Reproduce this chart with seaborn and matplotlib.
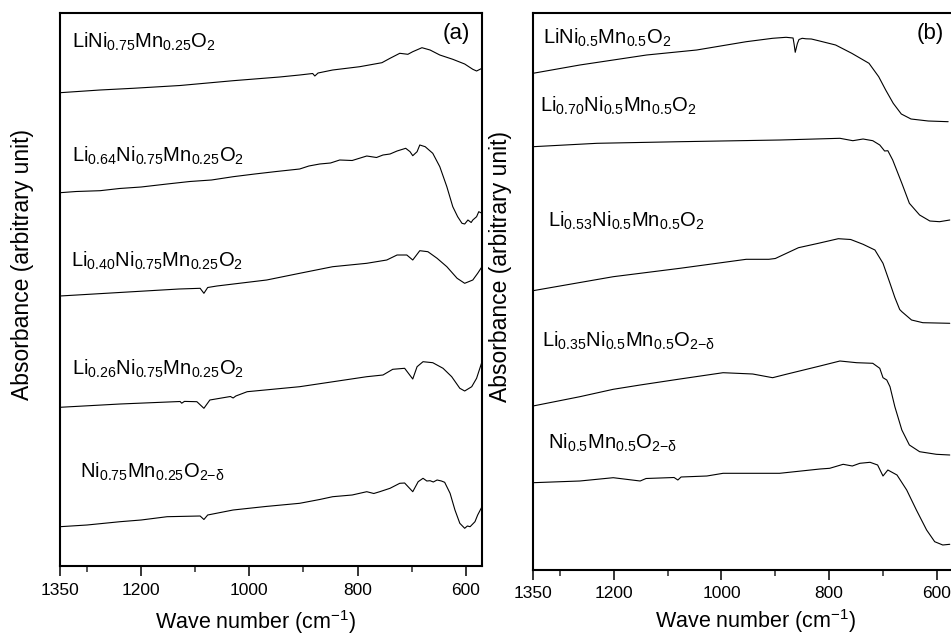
import numpy as np
import pandas as pd
import seaborn as sns
import matplotlib
matplotlib.use("Agg")
import matplotlib.pyplot as plt
from matplotlib.ticker import FixedLocator

# ---------------- panel (a): LiNi0.75Mn0.25O2 family ----------------
a1_wn = [1350, 1276, 1215, 1128, 1030, 944, 907, 883, 879, 873, 846, 796, 755, 740,
         722, 707, 698, 681, 666, 648, 624, 602, 587, 580, 570]
a1_ab = [473.3, 476.0, 477.7, 480.5, 485.3, 489.0, 491.0, 492.5, 490.0, 493.0, 496.0,
         499.3, 503.3, 507.7, 512.7, 511.7, 514.3, 518.3, 516.0, 511.0, 506.7, 502.0,
         496.7, 495.0, 497.7]

a2_wn = [1350, 1320, 1276, 1240, 1200, 1152, 1110, 1070, 1030, 990, 950, 907, 890,
         870, 850, 833, 810, 783, 765, 753, 740, 727, 711, 703, 698, 690, 685, 675,
         661, 648, 635, 624, 615, 607, 602, 596, 590, 587, 580, 576, 570]
a2_ab = [373.3, 374.5, 375.3, 377.5, 379.0, 382.0, 384.5, 386.0, 389.3, 392.0, 394.5,
         397.0, 400.0, 402.0, 403.0, 406.0, 405.5, 410.0, 408.5, 411.0, 412.0, 415.0,
         417.7, 414.3, 410.3, 414.3, 421.0, 419.3, 412.7, 399.3, 379.3, 359.3, 349.3,
         342.7, 342.0, 346.0, 343.5, 346.0, 349.3, 354.3, 352.7]

a3_wn = [1350, 1215, 1130, 1091, 1084, 1077, 1060, 968, 907, 846, 783, 746, 727, 709,
         698, 685, 670, 653, 635, 616, 602, 587, 578, 570]
a3_ab = [270.0, 274.3, 277.0, 277.7, 272.7, 278.5, 280.0, 286.0, 292.7, 299.3, 302.7,
         306.0, 311.0, 311.0, 306.0, 315.3, 314.3, 307.7, 299.3, 287.7, 282.7, 286.0,
         292.7, 299.3]

a4_wn = [1350, 1239, 1128, 1125, 1120, 1097, 1084, 1073, 1035, 1030, 1025, 1004, 907,
         783, 753, 735, 713, 698, 690, 679, 661, 642, 626, 611, 602, 589, 580, 570]
a4_ab = [158.7, 162.0, 164.5, 162.8, 164.6, 164.3, 157.7, 166.0, 169.5, 168.0, 170.0,
         174.3, 179.3, 189.3, 191.0, 196.7, 197.7, 187.0, 199.3, 204.3, 203.3, 197.7,
         189.3, 177.7, 175.0, 179.3, 187.7, 204.3]

a5_wn = [1350, 1300, 1239, 1200, 1152, 1091, 1084, 1077, 1030, 970, 907, 870, 846,
         810, 783, 770, 759, 740, 722, 713, 698, 688, 679, 672, 666, 660, 653, 645,
         639, 629, 620, 611, 602, 597, 592, 583, 578, 570]
a5_ab = [39.3, 41.0, 44.3, 46.0, 49.3, 50.0, 46.5, 51.0, 56.0, 59.5, 62.7, 66.5, 69.3,
         71.0, 74.3, 72.5, 74.3, 77.7, 82.7, 83.0, 74.3, 84.3, 87.7, 85.0, 85.3, 84.0,
         86.0, 85.0, 83.7, 72.7, 56.0, 42.7, 37.7, 40.0, 39.3, 44.3, 51.0, 59.3]

# ---------------- panel (b): LiNi0.5Mn0.5O2 family ----------------
b1_wn = [1350, 1263, 1139, 1046, 954, 905, 880, 867, 865, 863, 859, 856, 850, 843,
         833, 820, 788, 758, 726, 708, 695, 681, 666, 648, 616, 579]
b1_ab = [496.2, 504.5, 514.5, 519.5, 527.8, 531.2, 532.2, 531.5, 525.0, 517.2, 526.0,
         530.0, 531.2, 530.7, 530.5, 528.8, 524.5, 516.2, 506.2, 492.8, 479.5, 466.2,
         455.5, 450.5, 448.5, 447.8]

b2_wn = [1350, 1231, 1077, 891, 780, 756, 737, 719, 706, 697, 691, 682, 665, 651,
         632, 613, 595, 576]
b2_ab = [422.8, 426.2, 427.8, 429.5, 431.2, 428.8, 430.5, 428.8, 424.5, 418.5, 418.8,
         409.5, 386.2, 366.2, 354.5, 348.5, 347.8, 349.5]

b3_wn = [1350, 1201, 1077, 954, 912, 900, 857, 820, 783, 760, 737, 715, 700, 687,
         678, 669, 665, 647, 626, 576]
b3_ab = [278.8, 292.8, 301.2, 310.2, 310.2, 311.0, 321.8, 326.2, 330.8, 330.0, 325.2,
         319.5, 306.2, 286.2, 272.0, 260.0, 257.8, 249.5, 246.8, 246.2]

b4_wn = [1350, 1263, 1201, 1151, 1077, 997, 942, 905, 880, 817, 780, 749, 719, 706,
         700, 693, 687, 678, 665, 651, 632, 601, 576]
b4_ab = [163.5, 172.8, 180.2, 184.5, 190.5, 196.8, 195.5, 191.8, 195.2, 203.5, 208.5,
         206.8, 206.2, 201.2, 191.8, 189.5, 182.8, 162.8, 139.5, 124.5, 117.8, 115.2,
         114.5]

b5_wn = [1350, 1263, 1201, 1151, 1140, 1088, 1081, 1075, 1027, 997, 892, 817, 799,
         774, 757, 743, 724, 710, 700, 691, 674, 656, 638, 619, 604, 589, 576]
b5_ab = [86.8, 88.5, 91.8, 88.5, 91.0, 92.0, 89.5, 92.5, 93.5, 96.2, 96.2, 100.5,
         101.2, 105.2, 103.5, 106.2, 107.2, 104.5, 93.5, 99.5, 94.5, 79.5, 59.5, 39.5,
         27.8, 24.5, 25.2]

labels_a = [r"$\mathrm{LiNi_{0.75}Mn_{0.25}O_2}$",
            r"$\mathrm{Li_{0.64}Ni_{0.75}Mn_{0.25}O_2}$",
            r"$\mathrm{Li_{0.40}Ni_{0.75}Mn_{0.25}O_2}$",
            r"$\mathrm{Li_{0.26}Ni_{0.75}Mn_{0.25}O_2}$",
            r"$\mathrm{Ni_{0.75}Mn_{0.25}O_{2{-}\delta}}$"]
labels_b = [r"$\mathrm{LiNi_{0.5}Mn_{0.5}O_2}$",
            r"$\mathrm{Li_{0.70}Ni_{0.5}Mn_{0.5}O_2}$",
            r"$\mathrm{Li_{0.53}Ni_{0.5}Mn_{0.5}O_2}$",
            r"$\mathrm{Li_{0.35}Ni_{0.5}Mn_{0.5}O_{2{-}\delta}}$",
            r"$\mathrm{Ni_{0.5}Mn_{0.5}O_{2{-}\delta}}$"]

major_ticks = [1350, 1200, 1000, 800, 600]
minor_ticks = [1300, 1100, 900, 700]

sns.set_theme(style="ticks")
plt.rcParams["font.family"] = ["Liberation Sans", "DejaVu Sans"]
plt.rcParams["mathtext.fontset"] = "custom"
plt.rcParams["mathtext.rm"] = "Liberation Sans"
plt.rcParams["mathtext.it"] = "Liberation Sans:italic"
plt.rcParams["mathtext.bf"] = "Liberation Sans:bold"
plt.rcParams["mathtext.sf"] = "Liberation Sans"


def frame(wns, abs_, names):
    rows = []
    for w, a, n in zip(wns, abs_, names):
        rows.append(pd.DataFrame({"wn": w, "ab": a, "sample": n}))
    return pd.concat(rows, ignore_index=True)


df_a = frame([a1_wn, a2_wn, a3_wn, a4_wn, a5_wn],
             [a1_ab, a2_ab, a3_ab, a4_ab, a5_ab], labels_a)
df_b = frame([b1_wn, b2_wn, b3_wn, b4_wn, b5_wn],
             [b1_ab, b2_ab, b3_ab, b4_ab, b5_ab], labels_b)

fig = plt.figure(figsize=(9.51, 6.37), dpi=100)
ax_a = fig.add_axes([60 / 951, 71 / 637, 422 / 951, 552.7 / 637])
ax_b = fig.add_axes([533 / 951, 67.5 / 637, 420 / 951, 556.2 / 637])

panels = [
    (ax_a, df_a, labels_a, 552.7, "(a)",
     [(0.028, 0.937), (0.028, 0.731), (0.026, 0.541), (0.028, 0.3456), (0.047, 0.159)],
     (0.938, 0.964), (0.464, -0.0755), (-0.062, 0.545)),
    (ax_b, df_b, labels_b, 556.2, "(b)",
     [(0.024, 0.946), (0.017, 0.823), (0.036, 0.616), (0.021, 0.4006), (0.036, 0.218)],
     (0.945, 0.963), (0.531, -0.0685), (-0.050, 0.544)),
]

for ax, df, labs, ytop, tag, lab_pos, tag_pos, xl_pos, yl_pos in panels:
    sns.lineplot(data=df, x="wn", y="ab", units="sample", estimator=None,
                 color="black", linewidth=0.8, ax=ax, legend=False)
    ax.set_xlim(1350, 570)
    ax.set_ylim(0, ytop)
    ax.xaxis.set_major_locator(FixedLocator(major_ticks))
    ax.xaxis.set_minor_locator(FixedLocator(minor_ticks))
    ax.set_xticklabels([str(t) for t in major_ticks])
    ax.tick_params(axis="x", which="major", direction="out", length=7, width=1.1,
                   labelsize=12.5, pad=5, colors="black")
    ax.tick_params(axis="x", which="minor", direction="out", length=4, width=1.1)
    ax.set_yticks([])
    for sp in ax.spines.values():
        sp.set_visible(True)
        sp.set_linewidth(1.5)
        sp.set_color("black")
    ax.set_xlabel(r"Wave number (cm$^{-1}$)", fontsize=15.5, color="black")
    ax.xaxis.set_label_coords(*xl_pos)
    ax.xaxis.label.set_va("top")
    ax.set_ylabel("Absorbance (arbitrary unit)", fontsize=16.5, color="black")
    ax.yaxis.set_label_coords(*yl_pos)
    for lab, (fx, fy) in zip(labs, lab_pos):
        ax.text(fx, fy, lab, transform=ax.transAxes, fontsize=14.5,
                ha="left", va="baseline", color="black")
    ax.text(tag_pos[0], tag_pos[1], tag, transform=ax.transAxes, fontsize=16,
            ha="center", va="center", color="black")
    ax.set_facecolor("white")

fig.savefig("out.png", dpi=100, facecolor="white")
